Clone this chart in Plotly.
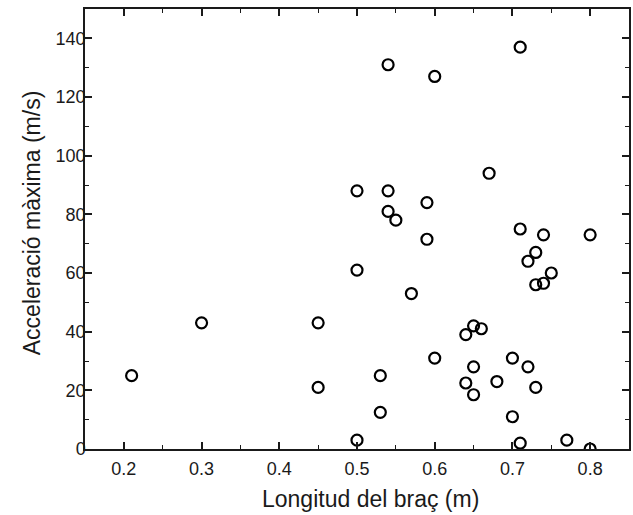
import plotly.graph_objects as go

longitud = [0.21, 0.30, 0.45, 0.45, 0.50, 0.50, 0.50, 0.53, 0.53, 0.54, 0.54, 0.54,
            0.55, 0.57, 0.59, 0.59, 0.60, 0.60, 0.64, 0.64, 0.65, 0.65, 0.65, 0.66,
            0.67, 0.68, 0.70, 0.70, 0.71, 0.71, 0.71, 0.72, 0.72, 0.73, 0.73, 0.73,
            0.74, 0.74, 0.75, 0.77, 0.80, 0.80]
acceleracio = [25, 43, 43, 21, 88, 61, 3, 25, 12.5, 131, 88, 81,
               78, 53, 84, 71.5, 127, 31, 39, 22.5, 42, 28, 18.5, 41,
               94, 23, 31, 11, 137, 75, 2, 64, 28, 67, 56, 21,
               73, 56.5, 60, 3, 73, 0]

x_ticks = [0.2, 0.3, 0.4, 0.5, 0.6, 0.7, 0.8]
x_labels = ["0.2", "0.3", "0.4", "0.5", "0.6", "0.7", "0.8"]
y_ticks = [0, 20, 40, 60, 80, 100, 120, 140]

x_title = "Longitud del braç (m)"
y_title = "Acceleració màxima (m/s)"

font = "Liberation Sans, Arial, sans-serif"
ink = "#1a1a1a"

fig = go.Figure(go.Scatter(
    x=longitud, y=acceleracio, mode="markers",
    marker=dict(symbol="circle-open", size=11, color="black", line=dict(width=2.2, color="black")),
    showlegend=False,
))

axis_common = dict(
    showline=True, linecolor=ink, linewidth=1.5, mirror="ticks",
    ticks="inside", ticklen=7, tickwidth=1.5, tickcolor=ink,
    showgrid=False, zeroline=False,
    tickfont=dict(family=font, size=18, color=ink),
)

fig.update_xaxes(
    range=[0.15, 0.85], tickvals=x_ticks, ticktext=x_labels,
    minor=dict(ticks="inside", ticklen=4, tickwidth=1.2, tickcolor=ink, dtick=0.05, tick0=0.15),
    ticklabelstandoff=3,
    **axis_common,
)
fig.update_yaxes(
    range=[0, 150], tickvals=y_ticks,
    minor=dict(ticks="inside", ticklen=4, tickwidth=1.2, tickcolor=ink, dtick=10, tick0=0),
    ticklabelstandoff=-6,
    **axis_common,
)

fig.add_annotation(
    text=x_title, xref="paper", yref="paper", x=0.5256, y=-0.1136,
    xanchor="center", yanchor="middle", showarrow=False,
    font=dict(family=font, size=23, color=ink),
)
fig.add_annotation(
    text=y_title, xref="paper", yref="paper", x=-0.097, y=0.5136,
    xanchor="center", yanchor="middle", showarrow=False, textangle=-90,
    font=dict(family=font, size=23, color=ink),
)

fig.update_layout(
    width=633, height=515,
    margin=dict(l=85, r=2, t=9, b=66),
    plot_bgcolor="white", paper_bgcolor="white",
)

fig.write_html("out.html")
